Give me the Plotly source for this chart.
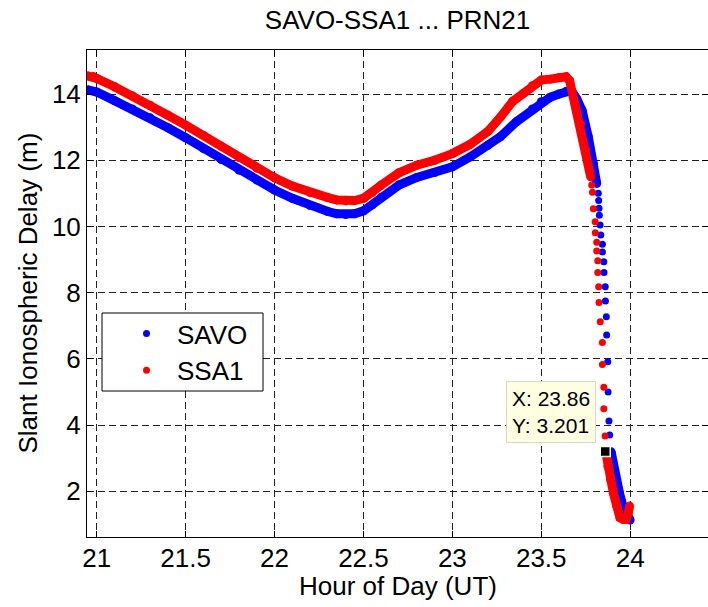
import plotly.graph_objects as go

# ---------------- text ----------------
title_text = "SAVO-SSA1 ... PRN21"
x_label = "Hour of Day (UT)"
y_label = "Slant Ionospheric Delay (m)"
series_names = ["SAVO", "SSA1"]
x_ticks = [21, 21.5, 22, 22.5, 23, 23.5, 24]
y_ticks = [2, 4, 6, 8, 10, 12, 14]
x_range = [20.945, 24.438]
y_range = [0.616, 15.33]

# ---------------- SAVO (blue) ----------------
savo_upper_hour = [20.945, 21.0, 21.1, 21.2, 21.3, 21.4, 21.5, 21.6, 21.7, 21.8, 21.9, 22.0,
                   22.1, 22.2, 22.3, 22.35, 22.4, 22.45, 22.5, 22.55, 22.6, 22.7, 22.8, 22.9,
                   23.0, 23.1, 23.2, 23.27, 23.36, 23.45, 23.5, 23.55, 23.6, 23.64, 23.67,
                   23.7, 23.73, 23.765, 23.793, 23.812]
savo_upper_delay = [14.13, 14.06, 13.8, 13.55, 13.28, 12.98, 12.68, 12.35, 12.02, 11.7, 11.4, 11.1,
                    10.85, 10.63, 10.45, 10.38, 10.36, 10.38, 10.47, 10.65, 10.88, 11.25, 11.48, 11.63,
                    11.8, 12.1, 12.45, 12.71, 13.16, 13.55, 13.77, 13.9, 14.0, 14.08, 14.1,
                    13.85, 13.5, 12.7, 11.9, 11.3]
savo_sparse_hour = [23.821, 23.823, 23.825, 23.827, 23.831, 23.835, 23.844, 23.844, 23.852,
                    23.853, 23.860, 23.861, 23.866, 23.868, 23.874, 23.876, 23.881, 23.885]
savo_sparse_delay = [11.0, 10.78, 10.55, 10.34, 10.04, 9.74, 9.46, 9.23, 8.93,
                     8.61, 8.18, 7.75, 7.27, 6.72, 5.91, 5.0, 4.12, 3.70]
savo_lower_hour = [23.893, 23.915, 23.94, 23.962, 23.98, 24.0]
savo_lower_delay = [3.19, 2.4, 1.95, 1.5, 1.25, 1.13]

# ---------------- SSA1 (red) ----------------
ssa1_upper_hour = [20.945, 20.98, 21.0, 21.1, 21.2, 21.3, 21.4, 21.5, 21.6, 21.7, 21.8, 21.9, 22.0,
                   22.1, 22.2, 22.3, 22.35, 22.4, 22.45, 22.5, 22.55, 22.6, 22.7, 22.8, 22.9,
                   23.0, 23.1, 23.2, 23.27, 23.34, 23.4, 23.45, 23.5, 23.55, 23.6, 23.64,
                   23.66, 23.69, 23.72, 23.75, 23.778]
ssa1_upper_delay = [14.55, 14.53, 14.47, 14.22, 13.95, 13.66, 13.36, 13.06, 12.75, 12.42, 12.08, 11.76, 11.47,
                    11.22, 11.02, 10.87, 10.8, 10.77, 10.78, 10.85, 11.02, 11.25, 11.62, 11.85, 12.0,
                    12.2, 12.48, 12.87, 13.3, 13.78, 14.02, 14.25, 14.42, 14.45, 14.5, 14.52,
                    14.4, 13.7, 13.1, 12.3, 11.5]
ssa1_sparse_hour = [23.784, 23.788, 23.793, 23.803, 23.804, 23.812, 23.812, 23.818, 23.818,
                    23.823, 23.825, 23.832, 23.844, 23.844, 23.852, 23.852, 23.859]
ssa1_sparse_delay = [11.25, 11.03, 10.53, 10.14, 9.81, 9.52, 9.26, 8.96, 8.61,
                     8.18, 7.70, 7.12, 6.49, 5.83, 5.14, 4.49, 3.67]
ssa1_lower_hour = [23.862, 23.875, 23.89, 23.906, 23.925, 23.943, 23.96, 23.977, 23.99, 23.997]
ssa1_lower_delay = [3.2, 2.75, 2.35, 1.94, 1.55, 1.2, 1.15, 1.15, 1.35, 1.55]

# ---------------- data tip ----------------
tip_hour = 23.86
tip_delay = 3.201

BLUE = "#0000FF"
RED = "#FF0000"
FONT = "Liberation Sans, Arial, Helvetica, sans-serif"

fig = go.Figure()


def add_series(name, color, upper, sparse, lower):
    for (hx, hy) in (upper, lower):
        fig.add_trace(go.Scatter(x=hx, y=hy, mode="lines+markers", name=name,
                                 line=dict(color=color, width=9),
                                 marker=dict(color=color, size=9),
                                 showlegend=False, hoverinfo="skip"))
    fig.add_trace(go.Scatter(x=sparse[0], y=sparse[1], mode="markers", name=name,
                             marker=dict(color=color, size=7),
                             showlegend=True, hoverinfo="skip"))


add_series(series_names[0], BLUE, (savo_upper_hour, savo_upper_delay),
           (savo_sparse_hour, savo_sparse_delay), (savo_lower_hour, savo_lower_delay))
add_series(series_names[1], RED, (ssa1_upper_hour, ssa1_upper_delay),
           (ssa1_sparse_hour, ssa1_sparse_delay), (ssa1_lower_hour, ssa1_lower_delay))

# data tip square
fig.add_trace(go.Scatter(x=[tip_hour], y=[tip_delay], mode="markers", showlegend=False,
                         marker=dict(symbol="square", color="black", size=10,
                                     line=dict(color="#FFFFE1", width=1.5)),
                         hoverinfo="skip"))

W, H = 708, 607
L, R, T, B = 87, 0, 50, 70
pw, ph = W - L - R, H - T - B


def px_x(p):
    return (p - L) / pw


def px_y(p):
    return (H - B - p) / ph


axis_common = dict(
    showline=True, linecolor="black", linewidth=1, mirror="ticks",
    ticks="inside", ticklen=6, tickcolor="black",
    showgrid=True, gridcolor="#222222", gridwidth=1, griddash="7px,4px",
    zeroline=False,
    tickfont=dict(family=FONT, size=26, color="black"),
)

fig.update_layout(
    width=W, height=H,
    margin=dict(l=L, r=R, t=T, b=B),
    paper_bgcolor="white", plot_bgcolor="white",
    font=dict(family=FONT, color="black"),
    xaxis=dict(range=x_range, tickvals=x_ticks, ticklabelstandoff=-2, **axis_common),
    yaxis=dict(range=y_range, tickvals=y_ticks, **axis_common),
    title=dict(text=title_text, x=0.5, xref="paper", y=1 - 20 / H, yref="container",
               xanchor="center", yanchor="middle",
               font=dict(family=FONT, size=26, color="black")),
    legend=dict(x=px_x(116), y=px_y(310), xanchor="left", yanchor="top",
                bgcolor="rgba(0,0,0,0)", borderwidth=0, itemwidth=51,
                font=dict(family=FONT, size=26, color="black"),
                tracegroupgap=0),
    shapes=[dict(type="rect", xref="paper", yref="paper",
                 x0=px_x(102), x1=px_x(263), y0=px_y(391), y1=px_y(313),
                 line=dict(color="black", width=1), fillcolor="white", layer="above")],
    annotations=[
        dict(text=x_label, xref="paper", yref="paper", x=0.5, y=px_y(586),
             xanchor="center", yanchor="middle", showarrow=False,
             font=dict(family=FONT, size=26, color="black")),
        dict(text=y_label, xref="paper", yref="paper", x=px_x(27), y=0.5,
             xanchor="center", yanchor="middle", showarrow=False, textangle=-90,
             font=dict(family=FONT, size=26, color="black")),
        dict(text="X: 23.86<br>Y: 3.201", xref="x", yref="y", x=tip_hour, y=tip_delay,
             xanchor="right", yanchor="bottom", xshift=-9, yshift=8, showarrow=False,
             align="left", bgcolor="#FFFFE1", bordercolor="#D8D8C8", borderwidth=1,
             borderpad=5, font=dict(family=FONT, size=21, color="black")),
    ],
)

fig.write_html("out.html")
